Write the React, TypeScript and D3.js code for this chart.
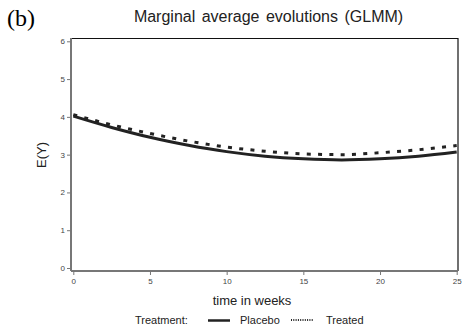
import * as d3 from "d3";
import { useEffect, useRef } from "react";

// values
const weeks = [0, 2.5, 5, 7.5, 10, 12.5, 15, 17.5, 20, 22.5, 25];
const placebo = [4.02, 3.72, 3.46, 3.25, 3.08, 2.96, 2.89, 2.86, 2.89, 2.96, 3.07];
const treated = [4.06, 3.79, 3.56, 3.36, 3.2, 3.09, 3.02, 3.0, 3.05, 3.13, 3.24];
const xTicks = [0, 5, 10, 15, 20, 25];
const yTicks = [0, 1, 2, 3, 4, 5, 6];

const width = 462;
const height = 327;
const marginLeft = 73.3;
const marginRight = 5.3;
const marginTop = 41.3;
const marginBottom = 59;

export default function App() {
  const ref = useRef<SVGSVGElement>(null);

  useEffect(() => {
    const svg = d3.select(ref.current);
    svg.selectAll("*").remove();

    const x = d3.scaleLinear().domain([0, 25]).range([marginLeft, width - marginRight]);
    const y = d3.scaleLinear().domain([0, 6]).range([height - marginBottom, marginTop]);
    const font = "'Liberation Sans', Arial, sans-serif";

    // panel border (top/right black, left/bottom grey axis lines)
    svg.append("line")
      .attr("x1", 71).attr("x2", 458).attr("y1", 38.5).attr("y2", 38.5)
      .attr("stroke", "#111").attr("stroke-width", 1.2);
    svg.append("line")
      .attr("x1", 458).attr("x2", 458).attr("y1", 38).attr("y2", 271)
      .attr("stroke", "#111").attr("stroke-width", 1.2);

    const yAxis = svg.append("g")
      .attr("transform", `translate(71,0)`)
      .call(d3.axisLeft(y).tickValues(yTicks).tickFormat(d3.format("d")).tickSize(4).tickPadding(2).tickSizeOuter(0));
    yAxis.select(".domain").attr("d", `M0,38V271`).attr("stroke", "#777").attr("stroke-width", 2);
    yAxis.selectAll(".tick line").attr("stroke", "#777");
    yAxis.selectAll(".tick text").attr("fill", "#444").style("font", `8px ${font}`);

    const xAxis = svg.append("g")
      .attr("transform", `translate(0,271)`)
      .call(d3.axisBottom(x).tickValues(xTicks).tickFormat(d3.format("d")).tickSize(4).tickPadding(3).tickSizeOuter(0));
    xAxis.select(".domain").attr("d", `M71,0H458`).attr("stroke", "#777").attr("stroke-width", 2);
    xAxis.selectAll(".tick line").attr("stroke", "#777");
    xAxis.selectAll(".tick text").attr("fill", "#444").style("font", `8px ${font}`);

    const line = d3.line<number>()
      .x((_, i) => x(weeks[i]))
      .y((d) => y(d))
      .curve(d3.curveMonotoneX);

    svg.append("path")
      .attr("d", line(placebo))
      .attr("fill", "none")
      .attr("stroke", "#222")
      .attr("stroke-width", 3);
    svg.append("path")
      .attr("d", line(treated))
      .attr("fill", "none")
      .attr("stroke", "#222")
      .attr("stroke-width", 3)
      .attr("stroke-dasharray", "4,7.3");

    // titles
    svg.append("text")
      .attr("x", 7).attr("y", 26)
      .style("font", "24px 'Liberation Serif', 'Times New Roman', serif")
      .text("(b)");
    svg.append("text")
      .attr("x", 268.5).attr("y", 22)
      .attr("text-anchor", "middle")
      .style("font", `16px ${font}`)
      .style("word-spacing", "2px")
      .attr("fill", "#222")
      .text("Marginal average evolutions (GLMM)");
    svg.append("text")
      .attr("transform", `translate(45.5,155) rotate(-90)`)
      .attr("text-anchor", "middle")
      .style("font", `13px ${font}`)
      .attr("fill", "#222")
      .text("E(Y)");
    svg.append("text")
      .attr("x", 252).attr("y", 305)
      .attr("text-anchor", "middle")
      .style("font", `13px ${font}`)
      .attr("fill", "#222")
      .text("time in weeks");

    // legend
    const leg = svg.append("g").style("font", `11px ${font}`).attr("fill", "#222");
    leg.append("text").attr("x", 135).attr("y", 324).text("Treatment:");
    leg.append("line").attr("x1", 208).attr("x2", 230).attr("y1", 320.5).attr("y2", 320.5)
      .attr("stroke", "#222").attr("stroke-width", 2.5);
    leg.append("text").attr("x", 240).attr("y", 324).text("Placebo");
    leg.append("line").attr("x1", 291).attr("x2", 313).attr("y1", 320).attr("y2", 320)
      .attr("stroke", "#222").attr("stroke-width", 2).attr("stroke-dasharray", "1,1.3");
    leg.append("text").attr("x", 326).attr("y", 324).text("Treated");
  }, []);

  return (
    <svg
      ref={ref}
      width={width}
      height={height}
      style={{ position: "absolute", left: 0, top: 0, background: "#fff" }}
    />
  );
}
